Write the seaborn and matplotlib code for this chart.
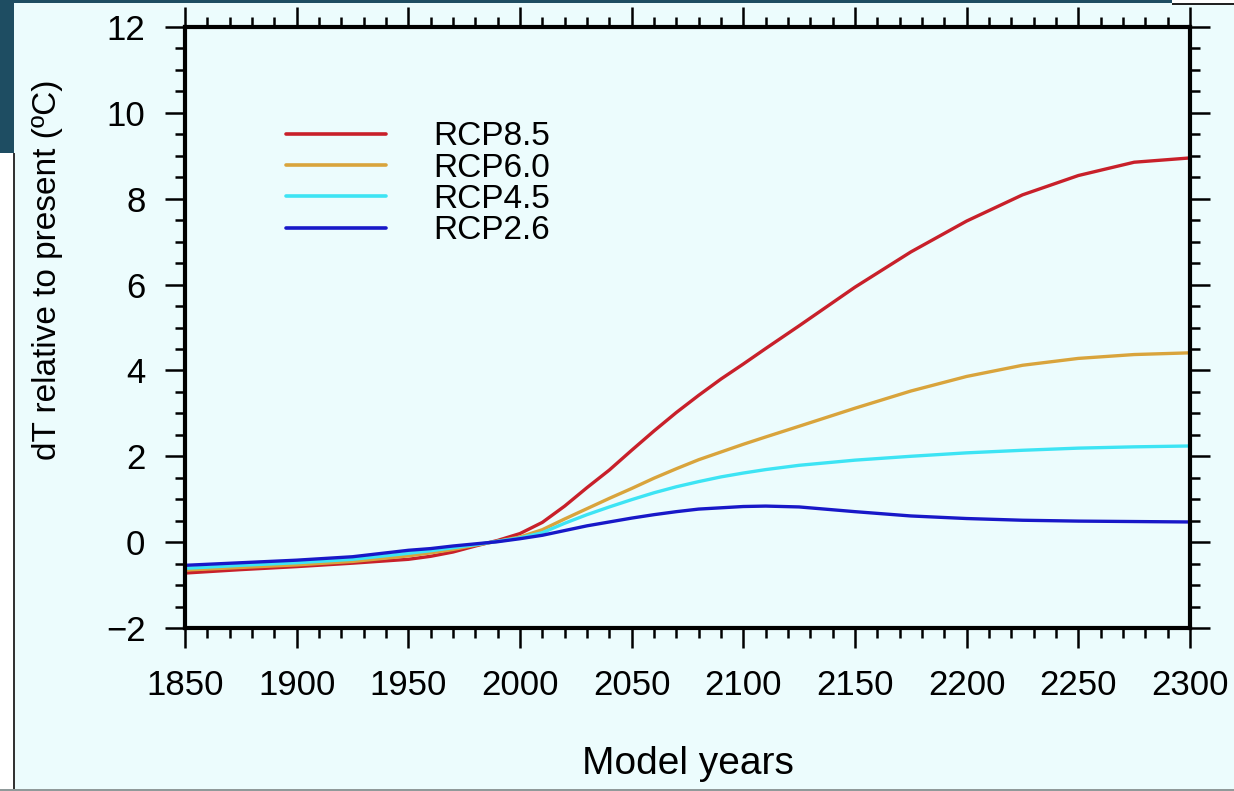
import matplotlib
matplotlib.use("Agg")
import matplotlib.pyplot as plt
from matplotlib.patches import Rectangle
from matplotlib.ticker import MultipleLocator
import numpy as np
import pandas as pd
import seaborn as sns

# ---- data ----
years = [1850, 1875, 1900, 1925, 1950, 1960, 1970, 1980, 1990, 2000, 2010,
         2020, 2030, 2040, 2050, 2060, 2070, 2080, 2090, 2100, 2110, 2125,
         2150, 2175, 2200, 2225, 2250, 2275, 2300]
rcp85 = [-0.72, -0.64, -0.57, -0.49, -0.40, -0.33, -0.23, -0.09, 0.04, 0.20, 0.46,
         0.84, 1.27, 1.68, 2.14, 2.59, 3.02, 3.42, 3.80, 4.15, 4.51, 5.04,
         5.94, 6.76, 7.48, 8.09, 8.54, 8.85, 8.95]
rcp60 = [-0.65, -0.59, -0.53, -0.45, -0.32, -0.25, -0.17, -0.07, 0.02, 0.12, 0.29,
         0.54, 0.78, 1.02, 1.25, 1.49, 1.71, 1.92, 2.10, 2.28, 2.45, 2.70,
         3.12, 3.52, 3.86, 4.12, 4.28, 4.37, 4.41]
rcp45 = [-0.61, -0.54, -0.48, -0.40, -0.26, -0.20, -0.13, -0.06, 0.02, 0.10, 0.22,
         0.44, 0.64, 0.82, 0.99, 1.15, 1.29, 1.41, 1.52, 1.61, 1.69, 1.79,
         1.91, 2.00, 2.08, 2.14, 2.19, 2.22, 2.24]
rcp26 = [-0.54, -0.48, -0.42, -0.34, -0.19, -0.15, -0.09, -0.04, 0.01, 0.08, 0.16,
         0.27, 0.38, 0.47, 0.56, 0.64, 0.71, 0.77, 0.80, 0.83, 0.84, 0.82,
         0.71, 0.61, 0.55, 0.51, 0.49, 0.48, 0.47]
scenarios = ["RCP8.5", "RCP6.0", "RCP4.5", "RCP2.6"]
colors = ["#c8202a", "#d9a43c", "#3de4f4", "#1818c8"]
x_ticks = [1850, 1900, 1950, 2000, 2050, 2100, 2150, 2200, 2250, 2300]
y_ticks = [-2, 0, 2, 4, 6, 8, 10, 12]

series = dict(zip(scenarios, [rcp85, rcp60, rcp45, rcp26]))
df = pd.concat([pd.DataFrame({"year": years, "dT": v, "scenario": k})
                for k, v in series.items()], ignore_index=True)

# ---- style ----
sns.set_style("ticks")
BG = "#ecfcfd"
plt.rcParams["font.family"] = ["Liberation Sans", "DejaVu Sans"]
plt.rcParams["axes.unicode_minus"] = True
for key in ["text.color", "axes.labelcolor", "xtick.color", "ytick.color"]:
    plt.rcParams[key] = "black"

W, H = 1234, 791
fig = plt.figure(figsize=(W / 100, H / 100), dpi=100, facecolor=BG)

def px_rect(x0, y0, x1, y1, color, z=0):
    fig.patches.append(Rectangle((x0 / W, 1 - y1 / H), (x1 - x0) / W, (y1 - y0) / H,
                                 transform=fig.transFigure, facecolor=color,
                                 edgecolor="none", zorder=z))

# slide decoration around the figure panel
px_rect(0, 0, 14, H, "white")
px_rect(0, 0, 14, 153, "#1e4d62")
px_rect(0, 0, 1172, 3, "#1e4d62")
px_rect(1172, 0, W, 3, "white")
px_rect(1172, 3, W, 4.5, "#222222")
px_rect(13, 153, 15, H, "#333333")
px_rect(0, H - 2, W, H, "#909a9a")

ax = fig.add_axes([185 / W, 1 - 628 / H, (1190 - 185) / W, (628 - 27) / H])
ax.set_facecolor(BG)

sns.lineplot(data=df, x="year", y="dT", hue="scenario", hue_order=scenarios,
             palette=colors, linewidth=2.4, ax=ax, legend=True)

ax.set_xlim(1850, 2300)
ax.set_ylim(-2, 12)
ax.set_xticks(x_ticks)
ax.set_yticks(y_ticks)
ax.xaxis.set_minor_locator(MultipleLocator(10))
ax.yaxis.set_minor_locator(MultipleLocator(0.5))
ax.tick_params(which="both", direction="out", top=True, right=True,
               labeltop=False, labelright=False, colors="black")
ax.tick_params(which="major", length=14.5, width=1.8, labelsize=25)
ax.tick_params(axis="x", which="major", pad=15)
ax.tick_params(axis="y", which="major", pad=14)
ax.tick_params(which="minor", length=7.2, width=1.8)
for s in ax.spines.values():
    s.set_linewidth(3)
    s.set_color("black")

ax.set_xlabel("Model years", fontsize=28, labelpad=32)
ax.set_ylabel("dT relative to present (ºC)", fontsize=24)
ax.yaxis.set_label_coords((63 - 185) / 1005, 0.596)

handles, labels = ax.get_legend_handles_labels()
leg = ax.legend(handles, labels, loc="upper left", bbox_to_anchor=(0.1, 0.843),
                frameon=False, fontsize=24, handlelength=3.02, handletextpad=1.41,
                labelspacing=0.01, borderaxespad=0, borderpad=0)
for h in leg.get_lines():
    h.set_linewidth(2.6)

fig.savefig("out.png", dpi=100, facecolor=BG)
